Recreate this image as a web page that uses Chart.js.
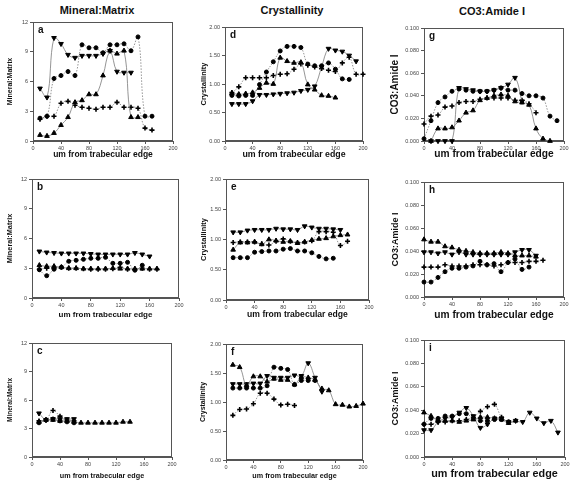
<!DOCTYPE html>
<html><head><meta charset="utf-8">
<script src="https://cdn.jsdelivr.net/npm/chart.js@4.4.0/dist/chart.umd.min.js"></script>
<style>
html,body{margin:0;padding:0;background:#fff;width:576px;height:484px;overflow:hidden;position:relative;font-family:"Liberation Sans",Arial,sans-serif}
canvas{position:absolute}
.ct{position:absolute;font-weight:bold;font-size:11px;transform:translate(-50%,-50%);white-space:nowrap;color:#111}
</style></head><body>
<div class="ct" style="left:97px;top:10px">Mineral:Matrix</div>
<div class="ct" style="left:292px;top:10px">Crystallinity</div>
<div class="ct" style="left:492px;top:11px">CO3:Amide I</div>
<script>
const N = null;
const distance = [0,10,20,30,40,50,60,70,80,90,100,110,120,130,140,150,160,170,180,190,200];
const xTicks = [0,40,80,120,160,200];
const mmTicks = [0,3,6,9,12];
const crTicks = [0,0.5,1,1.5,2];
const coTicks = [0,0.02,0.04,0.06,0.08,0.1];

// Panel a - Mineral:Matrix
const aCircle = [N,2.3,2.5,6.3,6.6,7.0,6.6,9.7,9.4,9.4,8.9,9.7,9.7,9.8,9.1,10.5,2.5,2.5,N,N,N];
const aUp     = [N,0.6,0.5,0.8,1.6,2.4,3.9,4.1,4.7,4.7,6.6,9.1,8.8,9.1,2.4,2.4,N,N,N,N,N];
const aDown   = [N,5.3,4.4,10.4,9.8,8.7,8.4,8.6,8.6,8.6,8.8,9.1,7.0,6.9,6.9,N,N,N,N,N,N];
const aPlus   = [N,2.2,2.5,2.5,3.8,4.0,3.6,3.4,3.3,3.2,3.4,3.4,3.9,3.4,3.4,3.3,1.3,1.1,N,N,N];
// Panel b
const bCircle = [N,2.85,2.25,2.9,3.1,3.7,3.8,3.9,4.0,4.0,4.1,3.5,3.5,3.6,2.8,3.3,N,N,N,N,N];
const bUp     = [N,3.3,3.2,3.2,3.1,3.0,3.0,2.95,2.95,2.95,2.95,3.0,2.95,2.95,2.95,2.95,2.95,2.95,N,N,N];
const bDown   = [N,4.7,4.6,4.55,4.5,4.5,4.5,4.5,4.45,4.4,4.4,4.4,4.4,4.4,4.55,4.4,4.2,N,N,N,N];
const bPlus   = [N,2.9,3.0,3.0,3.1,3.0,3.0,2.95,2.9,2.9,2.9,2.95,3.1,2.9,2.9,3.0,2.9,2.9,N,N,N];
// Panel c
const cCircle = [N,3.6,3.9,4.0,3.8,3.7,3.6,N,N,N,N,N,N,N,N,N,N,N,N,N,N];
const cUp     = [N,3.7,3.9,3.9,3.8,3.8,3.7,3.6,3.6,3.6,3.6,3.6,3.6,3.7,3.7,N,N,N,N,N,N];
const cDown   = [N,4.6,3.9,4.0,4.0,4.0,4.0,N,N,N,N,N,N,N,N,N,N,N,N,N,N];
const cPlus   = [N,3.8,3.9,4.9,4.3,3.9,3.8,N,N,N,N,N,N,N,N,N,N,N,N,N,N];
// Panel d - Crystallinity
const dCircle = [N,0.80,0.79,0.80,0.80,0.99,1.21,1.39,1.58,1.66,1.66,1.64,1.35,1.32,1.32,1.37,1.26,1.09,1.08,N,N];
const dUp     = [N,0.84,0.82,0.83,0.85,0.93,1.02,1.00,1.46,1.40,1.37,1.38,0.99,0.90,0.80,0.79,0.76,N,N,N,N];
const dDown   = [N,0.65,0.65,0.65,0.70,0.81,0.81,0.82,0.83,0.84,0.85,0.88,0.90,0.96,1.30,1.62,1.59,1.57,1.50,1.40,N];
const dPlus   = [N,0.85,0.95,1.11,1.11,1.11,1.11,1.15,1.17,1.18,1.26,1.35,1.33,1.30,1.27,1.24,1.22,1.37,1.47,1.17,1.17];
// Panel e
const eCircle = [N,0.70,0.70,0.70,0.79,0.80,0.81,0.81,0.84,0.85,0.81,0.81,0.78,0.72,0.68,0.69,N,N,N,N,N];
const eUp     = [N,0.83,0.95,0.95,0.96,0.92,1.00,0.98,0.96,0.97,0.94,0.96,0.99,1.01,1.02,1.05,1.07,1.08,N,N,N];
const eDown   = [N,1.12,1.12,1.15,1.16,1.16,1.16,1.18,1.17,1.17,1.16,1.22,1.20,1.18,1.18,1.17,1.16,N,N,N,N];
const ePlus   = [N,0.95,0.96,0.96,0.96,0.93,0.91,0.97,1.01,0.97,0.95,0.96,0.98,1.13,1.13,1.12,0.90,0.97,N,N,N];
// Panel f
const fCircle = [N,1.24,1.24,1.24,1.24,1.24,1.28,1.60,1.58,1.56,1.30,1.37,1.37,1.37,N,N,N,N,N,N,N];
const fUp     = [N,1.64,1.60,1.29,1.44,1.44,1.35,1.40,1.38,1.38,1.30,1.43,1.42,1.38,1.23,1.20,0.96,0.95,0.92,0.93,0.97];
const fDown   = [N,1.31,1.31,1.31,1.32,1.32,1.45,1.42,1.42,1.42,1.46,1.45,1.67,1.42,1.18,N,N,N,N,N,N];
const fPlus   = [N,0.77,0.87,0.88,0.97,1.15,1.15,1.05,0.95,0.96,0.94,N,N,N,N,N,N,N,N,N,N];
// Panel g - CO3:Amide I
const gCircle = [0.002,0.018,0.034,0.039,0.044,0.046,0.045,0.044,0.044,0.044,0.045,0.047,0.045,0.045,0.042,0.040,0.040,0.038,0.022,0.018,N];
const gUp     = [N,0.000,0.011,0.011,0.012,0.018,0.025,0.027,0.036,0.038,0.040,0.041,0.040,0.035,0.034,0.032,0.011,0.002,0.000,N,N];
const gDown   = [N,0.000,0.000,0.000,0.000,0.047,0.046,0.045,0.044,0.044,0.045,0.047,0.050,0.056,0.035,N,N,N,N,N,N];
const gPlus   = [0.015,0.022,0.023,0.030,0.031,0.034,0.035,0.035,0.037,0.038,0.038,0.038,0.038,0.036,0.036,0.033,0.025,N,N,N,N];
// Panel h
const hCircle = [0.013,0.013,0.017,0.022,0.025,0.025,0.026,0.027,0.031,0.028,0.029,0.022,0.030,0.033,0.024,0.026,N,N,N,N,N];
const hUp     = [0.050,0.048,0.048,0.044,0.043,0.041,0.040,0.039,0.038,0.038,0.038,0.039,0.038,0.036,0.036,0.036,0.035,N,N,N,N];
const hDown   = [0.039,0.039,0.038,0.039,0.037,0.039,0.037,0.037,0.037,0.037,0.037,0.037,0.037,0.039,0.041,0.041,0.036,N,N,N,N];
const hPlus   = [0.026,0.026,0.026,0.028,0.027,0.027,0.027,0.028,0.028,0.028,0.027,0.028,0.030,0.030,0.030,0.031,0.031,0.032,N,N,N];
// Panel i
const iCircle = [0.028,0.033,0.033,0.035,0.035,0.037,0.037,0.033,0.031,0.031,0.032,0.032,0.030,N,N,N,N,N,N,N,N];
const iUp     = [0.038,0.035,0.031,0.031,0.031,0.030,0.031,0.032,0.034,0.034,0.033,0.032,0.029,0.031,N,N,N,N,N,N,N];
const iDown   = [0.023,0.023,0.030,0.033,0.034,0.038,0.042,0.035,0.025,0.028,0.033,0.033,0.030,0.031,0.030,0.038,0.033,0.029,0.031,0.021,N];
const iPlus   = [0.028,0.028,0.030,0.030,0.031,0.031,0.032,0.034,0.039,0.043,0.045,0.034,0.030,N,N,N,N,N,N,N,N];

const FF = '"Liberation Sans", Arial, sans-serif';
const XTITLE = 'um from trabecular edge';

const panels = [
  {id:'a', L:33, R:173, T:22,  B:141, yt:10,  xt:155, yf:7,   xf:8.5, title:'Mineral:Matrix', ticks:mmTicks, dec:0, s:[aCircle,aUp,aDown,aPlus]},
  {id:'b', L:32, R:179, T:179, B:298, yt:10,  xt:315, yf:7.3, xf:8,   title:'Mineral:Matrix', ticks:mmTicks, dec:0, s:[bCircle,bUp,bDown,bPlus]},
  {id:'c', L:32, R:172, T:343, B:457, yt:10,  xt:476, yf:6.5, xf:7.2, title:'Mineral:Matrix', ticks:mmTicks, dec:0, s:[cCircle,cUp,cDown,cPlus]},
  {id:'d', L:225,R:363, T:27,  B:141, yt:203, xt:155, yf:7.5, xf:8.8, title:'Crystallinity', ticks:crTicks, dec:2, s:[dCircle,dUp,dDown,dPlus]},
  {id:'e', L:226,R:369, T:179, B:300, yt:203, xt:315, yf:7.5, xf:8.6, title:'Crystallinity', ticks:crTicks, dec:2, s:[eCircle,eUp,eDown,ePlus]},
  {id:'f', L:226,R:363, T:344, B:460, yt:203, xt:476, yf:7,   xf:7.2, title:'Crystallinity', ticks:crTicks, dec:2, s:[fCircle,fUp,fDown,fPlus]},
  {id:'g', L:424,R:564, T:28,  B:141, yt:395, xt:154, yf:10,  xf:10.2,title:'CO3:Amide I', ticks:coTicks, dec:3, s:[gCircle,gUp,gDown,gPlus]},
  {id:'h', L:424,R:564, T:182, B:297, yt:395, xt:315, yf:9,   xf:10.2,title:'CO3:Amide I', ticks:coTicks, dec:3, s:[hCircle,hUp,hDown,hPlus]},
  {id:'i', L:424,R:565, T:340, B:457, yt:395, xt:475, yf:9,   xf:10.8,title:'CO3:Amide I', ticks:coTicks, dec:3, s:[iCircle,iUp,iDown,iPlus]}
];

const STY = {
  circle:{ps:'circle',  r:2.0, rot:0,   dash:[1.5,1.5], bw:1},
  up:    {ps:'triangle',r:2.7, rot:0,   dash:[],        bw:1},
  down:  {ps:'triangle',r:2.7, rot:180, dash:[],        bw:1},
  plus:  {ps:'cross',   r:2.5, rot:0,   dash:[1.5,1.5], bw:1.6}
};
const KINDS = ['circle','up','down','plus'];

function makeDs(vals, kind){
  const st = STY[kind];
  const data = distance.map((d,i)=>({x:d, y:vals[i]})).filter(p=>p.y!==null);
  return {data, borderColor:'#7a7a7a', borderWidth:0.8, borderDash:st.dash, tension:0.4, fill:false,
    pointStyle:st.ps, pointRadius:st.r, pointRotation:st.rot, pointBackgroundColor:'#000',
    pointBorderColor:'#000', pointBorderWidth:st.bw, pointHoverRadius:st.r, clip:false};
}

const deco = {
  id:'panelDeco',
  beforeDatasetsDraw(chart){
    const {ctx, chartArea:a} = chart;
    ctx.save();
    ctx.strokeStyle = '#555'; ctx.lineWidth = 1;
    ctx.strokeRect(Math.round(a.left)+0.5, Math.round(a.top)+0.5, Math.round(a.right-a.left)-1, Math.round(a.bottom-a.top)-1);
    ctx.restore();
  },
  afterDraw(chart, args, opts){
    const {ctx, chartArea:a} = chart;
    ctx.save();
    ctx.fillStyle = '#111';
    ctx.font = 'bold 10px ' + FF;
    ctx.textBaseline = 'top';
    ctx.fillText(opts.letter, a.left+5, a.top+3);
    ctx.restore();
  }
};

function build(p){
  const yl = p.yf*1.2, xl = p.xf*1.2;
  const cl = Math.round(p.yt - yl/2 - 1);
  const ctop = p.T - 6;
  const cr = p.R + 8;
  const cb = Math.round(p.xt + xl/2 + 1);
  const W = cr - cl, H = cb - ctop;
  const cv = document.createElement('canvas');
  cv.width = W; cv.height = H;
  cv.style.left = cl+'px'; cv.style.top = ctop+'px';
  cv.style.width = W+'px'; cv.style.height = H+'px';
  document.body.appendChild(cv);
  const tickFont = {size:5.5, family:FF};
  new Chart(cv, {
    type:'line',
    data:{datasets: p.s.map((v,k)=>makeDs(v, KINDS[k]))},
    options:{
      responsive:false, animation:false, devicePixelRatio:1,
      layout:{padding:{left:0, top:6, right:8, bottom:0}},
      plugins:{legend:{display:false}, tooltip:{enabled:false}, panelDeco:{letter:p.id}},
      scales:{
        x:{type:'linear', min:0, max:200,
          afterBuildTicks:s=>{ s.ticks = xTicks.map(v=>({value:v})); },
          afterFit:s=>{ s.height = cb - p.B; },
          ticks:{font:tickFont, color:'#444', padding:1, maxRotation:0, autoSkip:false},
          grid:{drawOnChartArea:false, drawTicks:true, tickLength:3, color:'#555'},
          border:{display:true, color:'#555'},
          title:{display:true, text:XTITLE, font:{size:p.xf, weight:'bold', family:FF}, color:'#111', padding:{top:0, bottom:1}}
        },
        y:{type:'linear', min:p.ticks[0], max:p.ticks[p.ticks.length-1],
          afterBuildTicks:s=>{ s.ticks = p.ticks.map(v=>({value:v})); },
          afterFit:s=>{ s.width = p.L - cl; },
          ticks:{font:tickFont, color:'#444', padding:2, autoSkip:false, callback:v=>Number(v).toFixed(p.dec)},
          grid:{drawOnChartArea:false, drawTicks:true, tickLength:3, color:'#555'},
          border:{display:true, color:'#555'},
          title:{display:true, text:p.title, font:{size:p.yf, weight:'bold', family:FF}, color:'#111', padding:{top:1, bottom:0}}
        }
      }
    },
    plugins:[deco]
  });
}
panels.forEach(build);
</script>
</body></html>
